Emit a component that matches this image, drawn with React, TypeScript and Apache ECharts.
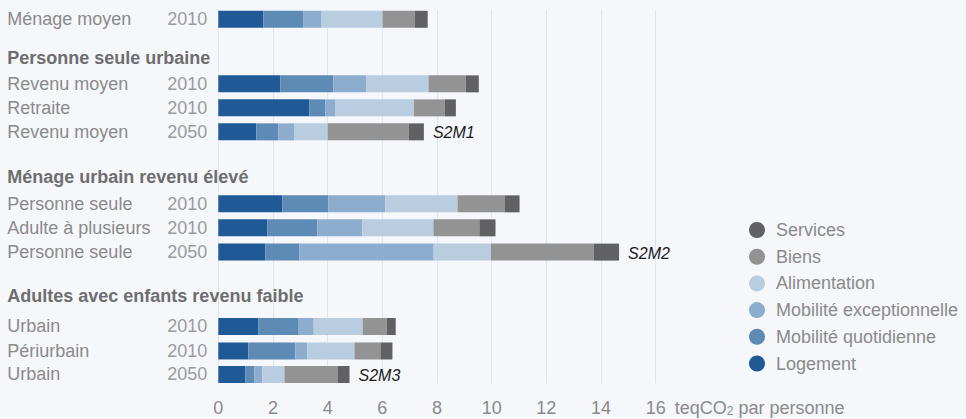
import React, { useEffect, useRef } from 'react';
import * as echarts from 'echarts';

// ---- Data ----
const rowNames = ['Ménage moyen', 'Revenu moyen', 'Retraite', 'Revenu moyen', 'Personne seule', 'Adulte à plusieurs', 'Personne seule', 'Urbain', 'Périurbain', 'Urbain'];
const rowYears = ['2010', '2010', '2010', '2050', '2010', '2010', '2050', '2010', '2010', '2050'];
const rowScenario = ['', '', '', 'S2M1', '', '', 'S2M2', '', '', 'S2M3'];
const groupHeaders = ['Personne seule urbaine', 'Ménage urbain revenu élevé', 'Adultes avec enfants revenu faible'];

const logement = [1.65, 2.27, 3.33, 1.39, 2.34, 1.79, 1.72, 1.47, 1.10, 0.99];
const mobiliteQuotidienne = [1.47, 1.94, 0.59, 0.81, 1.68, 1.83, 1.25, 1.47, 1.72, 0.33];
const mobiliteExceptionnelle = [0.66, 1.21, 0.37, 0.59, 2.09, 1.65, 4.91, 0.55, 0.44, 0.29];
const alimentation = [2.23, 2.27, 2.86, 1.21, 2.64, 2.60, 2.09, 1.79, 1.72, 0.81];
const biens = [1.17, 1.36, 1.14, 2.97, 1.72, 1.68, 3.77, 0.88, 0.95, 1.94];
const services = [0.48, 0.48, 0.40, 0.55, 0.55, 0.59, 0.92, 0.33, 0.44, 0.44];

const xMin = 0;
const xMax = 16;
const xInterval = 2;
const axisUnit = 'teqCO{sub|2} par personne';

// ---- Layout (row positions in row units) ----
const rowSlots = [0, 2.69, 3.69, 4.69, 7.69, 8.69, 9.7, 12.8, 13.82, 14.8];
const headerSlots = [1.63, 6.56, 11.55];

const FONT = '"Liberation Sans", Arial, Helvetica, sans-serif';
const BAR_H = 17;

const seriesDefs = [
  { name: 'Logement', values: logement, color: '#1f5a96' },
  { name: 'Mobilité quotidienne', values: mobiliteQuotidienne, color: '#5e8ab6' },
  { name: 'Mobilité exceptionnelle', values: mobiliteExceptionnelle, color: '#8dadce' },
  { name: 'Alimentation', values: alimentation, color: '#b9cde0' },
  { name: 'Biens', values: biens, color: '#939393' },
  { name: 'Services', values: services, color: '#616163' },
];

function buildOption() {
  const cum = rowNames.map(() => 0);
  const series = seriesDefs.map((def, k) => {
    const data = def.values.map((v, i) => {
      const start = cum[i];
      cum[i] += v;
      return [rowSlots[i], start, cum[i], i];
    });
    const isLast = k === seriesDefs.length - 1;
    return {
      type: 'custom',
      name: def.name,
      itemStyle: { color: def.color },
      encode: { x: [1, 2], y: 0 },
      data,
      renderItem: (params: any, api: any) => {
        const slot = api.value(0);
        const p0 = api.coord([api.value(1), slot]);
        const p1 = api.coord([api.value(2), slot]);
        const rect = {
          type: 'rect',
          shape: { x: p0[0], y: p0[1] - BAR_H / 2, width: p1[0] - p0[0], height: BAR_H },
          style: { fill: def.color },
        };
        const idx = api.value(3);
        const sc = rowScenario[idx];
        if (isLast && sc) {
          return {
            type: 'group',
            children: [
              rect,
              {
                type: 'text',
                x: p1[0] + 9,
                y: p1[1] + 1,
                style: {
                  text: sc,
                  fill: '#1a1a1a',
                  fontSize: 16,
                  fontStyle: 'italic',
                  fontFamily: FONT,
                  align: 'left',
                  verticalAlign: 'middle',
                  textAlign: 'left',
                  textVerticalAlign: 'middle',
                },
              },
            ],
          };
        }
        return rect;
      },
    };
  });

  const labelEntries = [
    ...rowSlots.map((s, i) => ({ s, text: `{n|${rowNames[i]}}{y|${rowYears[i]}}` })),
    ...headerSlots.map((s, i) => ({ s, text: `{h|${groupHeaders[i]}}` })),
  ];
  const allSlots = labelEntries.map((e) => e.s).sort((a, b) => a - b);

  return {
    animation: false,
    backgroundColor: '#f5f7fb',
    textStyle: { fontFamily: FONT },
    grid: {
      left: 218.3,
      right: 310.3,
      top: 10,
      bottom: 35.7,
      containLabel: false,
      outerBoundsMode: 'none',
    },
    legend: {
      orient: 'vertical',
      left: 749,
      top: 221,
      padding: 0,
      itemWidth: 16,
      itemHeight: 16,
      itemGap: 8.7,
      icon: 'circle',
      textStyle: { fontSize: 18, color: '#8a8a8a', fontFamily: FONT, lineHeight: 18, padding: [0, 0, 0, 6] },
      data: ['Services', 'Biens', 'Alimentation', 'Mobilité exceptionnelle', 'Mobilité quotidienne', 'Logement'],
    },
    xAxis: {
      type: 'value',
      min: xMin,
      max: xMax,
      interval: xInterval,
      axisLine: { show: false, onZero: false },
      axisTick: { show: false },
      splitLine: { show: true, lineStyle: { color: '#dde6f0', width: 1 } },
      axisLabel: { color: '#8a8a8a', fontSize: 18, margin: 16, fontFamily: FONT },
      name: axisUnit,
      nameLocation: 'end',
      nameGap: 19,
      nameTextStyle: {
        color: '#8a8a8a',
        fontSize: 18,
        fontFamily: FONT,
        verticalAlign: 'top',
        align: 'left',
        padding: [16, 0, 0, 0],
        rich: {
          sub: { fontSize: 12, color: '#8a8a8a', fontFamily: FONT, verticalAlign: 'bottom', lineHeight: 10 },
        },
      },
    },
    yAxis: {
      type: 'value',
      inverse: true,
      min: -0.3875,
      max: 15.167,
      axisLine: { show: false },
      axisTick: { show: false },
      splitLine: { show: false },
      axisLabel: {
        customValues: allSlots,
        align: 'left',
        margin: 211,
        formatter: (v: number) => {
          let best = labelEntries[0];
          for (const e of labelEntries) if (Math.abs(e.s - v) < Math.abs(best.s - v)) best = e;
          return best.text;
        },
        rich: {
          n: { width: 160, align: 'left', color: '#8a8a8a', fontSize: 18, fontFamily: FONT },
          y: { width: 40, align: 'right', color: '#9b9b9b', fontSize: 18, fontFamily: FONT },
          h: { align: 'left', color: '#6e6e6e', fontSize: 18, fontWeight: 'bold', fontFamily: FONT },
        },
      },
    },
    series,
  };
}

export default function App() {
  const ref = useRef<HTMLDivElement>(null);
  useEffect(() => {
    if (!ref.current) return;
    const chart = echarts.init(ref.current, null, { renderer: 'svg' });
    chart.setOption(buildOption() as any);
    return () => chart.dispose();
  }, []);
  return <div ref={ref} style={{ position: 'fixed', left: 0, top: 0, width: 966, height: 419 }} />;
}
